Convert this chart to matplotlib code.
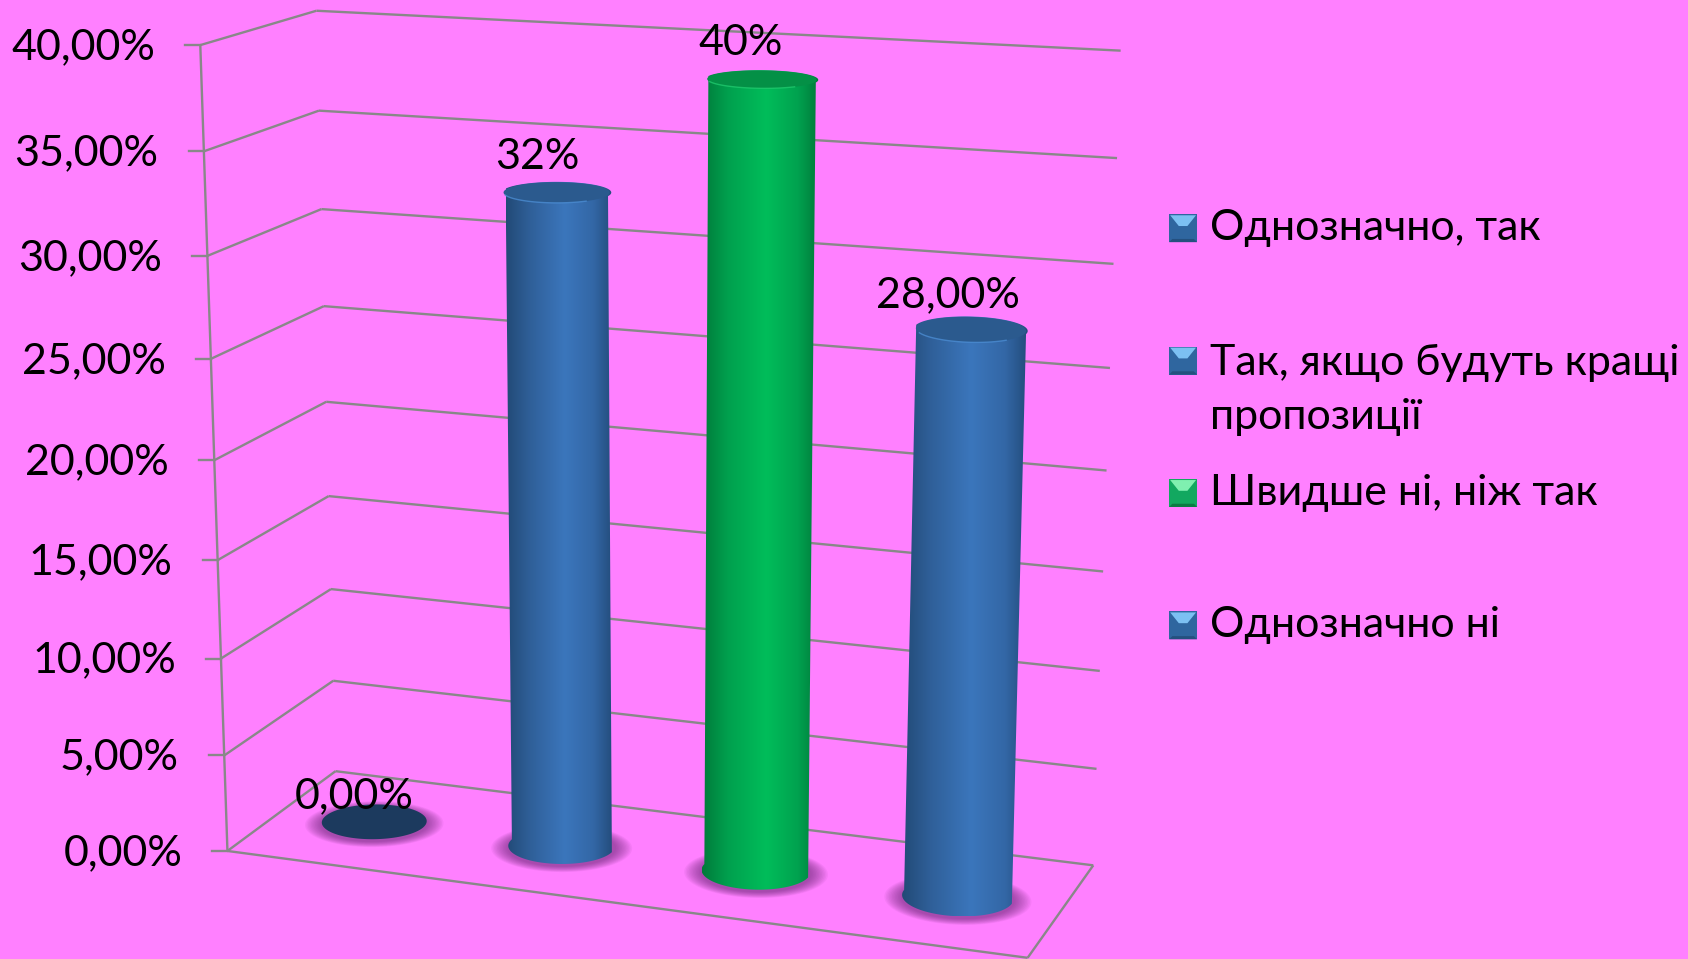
#!/usr/bin/env python3
"""3D cylinder chart, drawn on a flat axes through a fitted perspective camera."""

import numpy as np
import matplotlib
matplotlib.use("Agg")
import matplotlib.pyplot as plt
from matplotlib.colors import LinearSegmentedColormap
from matplotlib.patches import Polygon, Rectangle


categories = ["Однозначно, так", "Так, якщо будуть кращі\nпропозиції", "Швидше ні, ніж так", "Однозначно ні"]
# heights as drawn in the picture; the printed labels say 32% and 40%
values = [0, 32.9, 38.8, 27.8]
value_labels = ["0,00%", "32%", "40%", "28,00%"]
ticks = [0, 5, 10, 15, 20, 25, 30, 35, 40]
tick_labels = ["0,00%", "5,00%", "10,00%", "15,00%", "20,00%", "25,00%", "30,00%", "35,00%", "40,00%"]

BG = "#FF80FF"
GRID = "#888888"
BLUE = {
    "stops": ["#224a76", "#2f5f98", "#3b76bc", "#3367a6", "#234c7b"],
    "top": "#2b5a8e",
    "rim": "#4d8fd6",
    "flat": "#1c3a5e",
    "legend": ("#2f669f", "#7cc0f2", "#24507f"),
}
GREEN = {
    "stops": ["#007a3a", "#00a04e", "#00bd5a", "#00a24f", "#007a3a"],
    "top": "#049046",
    "rim": "#22cc70",
    "flat": "#007a3a",
    "legend": ("#12a860", "#7ff0b0", "#0b7a44"),
}
styles = [BLUE, BLUE, GREEN, BLUE]

# frame calibration: (category, value, depth) -> picture position
ANCHORS = [
    ((0, 0, 0), (211, 791)), ((4, 0, 0), (955, 889)), ((4, 0, 1), (1015, 805)), ((0, 0, 1), (313, 716)),
    ((0, 40, 0), (187, 42)), ((0, 40, 1), (294, 10)), ((4, 40, 1), (1041, 47)),
    ((0, 20, 0), (198, 428)), ((0, 20, 1), (302, 373)), ((4, 20, 1), (1028, 437)),
]


def fit_camera():
    rows, rhs = [], []
    for (x, y, z), (u, v) in ANCHORS:
        x, y = x / 4, y / 40
        rows.append([x, y, z, 1, 0, 0, 0, 0, -u * x, -u * y, -u * z])
        rows.append([0, 0, 0, 0, x, y, z, 1, -v * x, -v * y, -v * z])
        rhs += [u, v]
    p = np.linalg.lstsq(np.array(rows, float), np.array(rhs, float), rcond=None)[0]
    return np.append(p, 1).reshape(3, 4)


CAM = fit_camera()


def project(x, y, z):
    x, y, z = np.broadcast_arrays(np.asarray(x, float) / 4, np.asarray(y, float) / 40, np.asarray(z, float))
    pts = CAM @ np.stack([x, y, z, np.ones_like(x)])
    return pts[0] / pts[2], pts[1] / pts[2]


def circle(cat, val, theta, scale=1.0):
    # radius in category units and in depth units
    return project(cat + 0.5 + 0.262 * scale * np.cos(theta), val, 0.5 + 0.20 * scale * np.sin(theta))


def top_circle(cat, val, theta, scale=1.0):
    u, v = circle(cat, val, theta, 0.975 * scale)
    cy = project(cat + 0.5, val, 0.5)[1]
    return u, cy + (v - cy) * 1.12


def line3(ax, a, b, lw=1.7):
    u, v = project([a[0], b[0]], [a[1], b[1]], [a[2], b[2]])
    ax.plot(u, v, color=GRID, lw=lw, solid_capstyle="butt", zorder=1)


def frame(ax):
    for t, lab in zip(ticks, tick_labels):
        line3(ax, (0, t, 0), (0, t, 1))
        line3(ax, (0, t, 1), (4, t, 1))
        u, v = project(0, t, 0)
        ax.plot([u - 14, u], [v, v], color=GRID, lw=1.7, zorder=1)
        ax.text(u - 42, v + 2, lab, ha="right", va="center", fontsize=FS, color="black", zorder=6)
    line3(ax, (0, 0, 0), (0, 40, 0))
    line3(ax, (0, 0, 0), (4, 0, 0))
    line3(ax, (4, 0, 0), (4, 0, 1))


def cylinder(ax, cat, val, st):
    th = np.linspace(0, 2 * np.pi, 121)
    for s in np.linspace(1.32, 1.02, 12):
        u, v = circle(cat, 0, th, s)
        ax.add_patch(Polygon(np.c_[u, v + 2], fc="#571c63", ec="none", alpha=0.055, zorder=2))
    if val == 0:
        u, v = circle(cat, 0, th)
        ax.add_patch(Polygon(np.c_[u, v], fc=st["flat"], ec="none", zorder=3))
        return
    front = np.linspace(np.pi, 2 * np.pi, 60)
    back = np.linspace(0, np.pi, 60)
    ub, vb = circle(cat, 0, front)
    ut, vt = top_circle(cat, val, back)
    body = Polygon(np.r_[np.c_[ub, vb], np.c_[ut, vt]], fc="none", ec="none", zorder=3)
    ax.add_patch(body)
    cmap = LinearSegmentedColormap.from_list("cyl", list(zip([0, 0.22, 0.55, 0.82, 1], st["stops"])))
    left, right = min(ub.min(), ut.min()), max(ub.max(), ut.max())
    img = ax.imshow(np.linspace(0, 1, 256)[None, :], cmap=cmap, aspect="auto",
                    extent=(left, right, vb.max(), vt.min()), zorder=3)
    img.set_clip_path(body)
    # dark lid, a little inside the shoulder, with a lit front edge
    u, v = top_circle(cat, val, th, 0.97)
    ax.add_patch(Polygon(np.c_[u, v], fc=st["top"], ec="none", zorder=4))
    u, v = top_circle(cat, val, np.linspace(1.2 * np.pi, 1.8 * np.pi, 40), 0.97)
    ax.plot(u, v, color=st["rim"], lw=1.0, alpha=0.75, zorder=5)


def legend(ax):
    ys = [212, 335, 458, 581]
    for y, name, st in zip(ys, categories, styles):
        base, light, dark = st["legend"]
        x0, x1, y0, y1 = 1086, 1112, y - 13, y + 13
        ax.add_patch(Rectangle((x0, y0), 26, 26, fc=base, ec="none", zorder=5))
        ax.add_patch(Polygon([(x0 + 1, y0 + 1), (x1 - 1, y0 + 1), (x1 - 9, y0 + 11), (x0 + 9, y0 + 11)],
                             fc=light, ec="none", zorder=6))
        ax.add_patch(Polygon([(x0, y1), (x1, y1), (x1 - 3, y1 - 3), (x0 + 3, y1 - 3)], fc=dark, ec="none", zorder=6))
        # two-line entries are centred on the midpoint of their lines
        ty = y + 27 if "\n" in name else y
        ax.text(1124, ty, name, ha="left", va="center", fontsize=FS, linespacing=1.52, color="black", zorder=6)


FS = 31
plt.rcParams["font.family"] = ["Lato", "Noto Sans", "DejaVu Sans"]

fig = plt.figure(figsize=(16.88, 9.59), dpi=100, facecolor=BG)
ax = fig.add_axes([0, 0, 1, 1])
ax.axis("off")

frame(ax)
for i in range(len(values)):
    cylinder(ax, i, values[i], styles[i])
offsets = [(-19, -24), (-18, -33), (-20, -34), (-21, -32)]
for i, lab in enumerate(value_labels):
    u, v = project(i + 0.5, values[i], 0.5)
    ax.text(u + offsets[i][0], v + offsets[i][1], lab, ha="center", va="center", fontsize=FS, color="black", zorder=7)
legend(ax)

ax.set_xlim(0, 1568)
ax.set_ylim(891, 0)
fig.savefig("out.png", dpi=100, facecolor=BG)
